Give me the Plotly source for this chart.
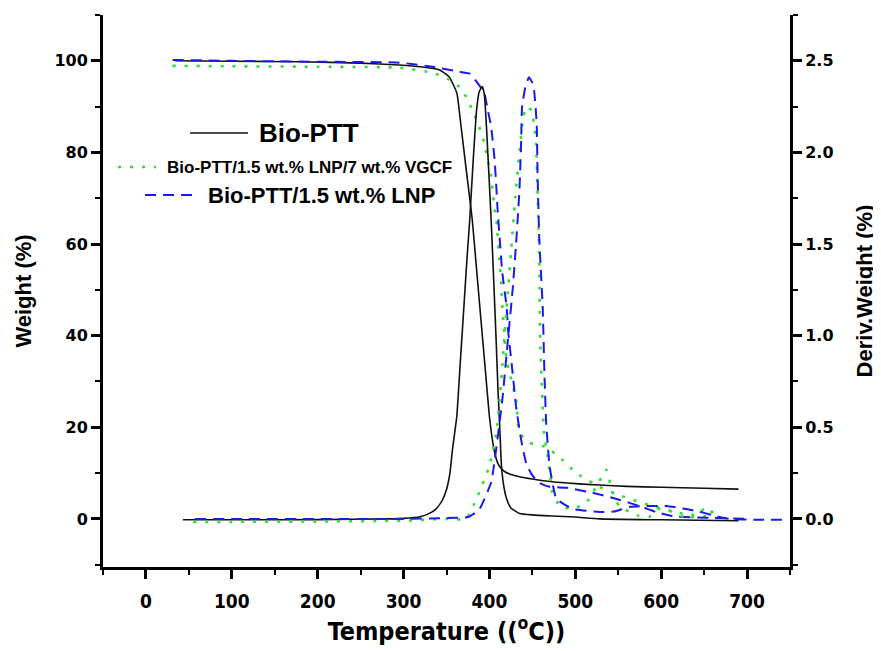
import plotly.graph_objects as go

# ---------------- data ----------------
# Bio-PTT (black, solid)
t_ptt_tga = [34, 100, 180, 250, 295, 320, 342, 353, 362, 367, 373, 380, 385, 390, 395, 400, 405, 409, 412, 418, 425, 435, 450, 473, 500, 528, 560, 600, 650, 690]
w_ptt_tga = [100.0, 99.9, 99.8, 99.5, 99.1, 98.7, 98.0, 96.5, 93.0, 85.6, 76.2, 65.3, 54.5, 43.7, 33.0, 22.3, 15.5, 12.5, 11.4, 10.3, 9.7, 9.2, 8.7, 8.1, 7.7, 7.4, 7.1, 6.9, 6.7, 6.5]
t_ptt_dtg = [43, 100, 200, 280, 300, 319, 330, 338, 345, 350, 354, 357, 362, 366, 370, 374, 377, 381, 385, 388, 391.5, 394, 397, 402, 405, 408, 410, 412, 414, 417, 420, 425, 435, 450, 473, 500, 528, 600, 690]
d_ptt_dtg = [-0.005, -0.005, -0.004, 0.0, 0.003, 0.012, 0.03, 0.055, 0.1, 0.16, 0.25, 0.38, 0.56, 0.85, 1.14, 1.43, 1.63, 1.95, 2.23, 2.33, 2.36, 2.32, 2.1, 1.63, 1.3, 0.95, 0.7, 0.5, 0.29, 0.17, 0.11, 0.06, 0.03, 0.022, 0.016, 0.01, 0.0, -0.005, -0.01]

# Bio-PTT/1.5 wt.% LNP/7 wt.% VGCF (green, dotted)
t_vgcf_tga = [31, 100, 200, 295, 334, 353, 365, 373, 380, 388, 394, 398, 402, 404, 406, 408, 409, 412, 414, 415, 417, 420, 431, 435, 447, 466, 485, 501, 520, 528, 551, 586, 621, 660]
w_vgcf_tga = [98.9, 98.8, 98.7, 98.5, 97.4, 95.9, 94.3, 92.1, 89.3, 85.6, 82.1, 78.4, 74.7, 71.2, 67.5, 65.3, 63.1, 55.9, 50.7, 46.3, 41.3, 34.7, 26.0, 18.8, 16.6, 15.7, 12.9, 10.0, 7.9, 7.0, 5.2, 3.0, 1.3, 0.4]
t_vgcf_dtg = [55, 100, 200, 300, 350, 373, 385, 400, 408, 412, 416, 420, 425, 430, 435, 439, 443, 449, 454, 456, 458, 459, 462, 464, 467, 470, 473, 482, 497, 513, 525, 536, 543, 551, 574, 586, 598, 612, 633, 650, 656, 662]
d_vgcf_dtg = [-0.016, -0.016, -0.014, -0.01, 0.0, 0.0, 0.11, 0.29, 0.47, 0.65, 0.9, 1.15, 1.45, 1.75, 2.0, 2.18, 2.25, 2.23, 2.07, 1.8, 1.43, 0.98, 0.62, 0.44, 0.38, 0.26, 0.15, 0.07, 0.054, 0.09, 0.18, 0.27, 0.15, 0.07, 0.016, 0.01, 0.054, 0.04, 0.0, 0.054, 0.06, 0.01]

# Bio-PTT/1.5 wt.% LNP (blue, dashed)
t_lnp_tga = [31, 100, 200, 295, 334, 365, 377, 386, 394, 398, 402, 406, 408, 409.5, 412, 415, 420, 422, 427, 431, 437, 443, 450, 458, 470, 490, 520, 543, 563, 578, 594, 613, 640, 662, 700]
w_lnp_tga = [100.2, 100.0, 99.8, 99.6, 98.7, 97.6, 97.2, 95.2, 93.0, 89.3, 85.6, 78.4, 72.5, 67.5, 61.0, 53.7, 46.3, 40.6, 31.9, 24.5, 17.2, 12.0, 9.5, 7.9, 7.0, 6.8, 5.7, 4.6, 3.5, 2.6, 1.5, 0.6, 0.3, 0.2, 0.0]
t_lnp_dtg = [57, 100, 200, 300, 350, 375, 388, 402, 415, 420, 423, 427, 431, 435, 437, 438, 442, 446, 450, 452, 455, 456, 458, 462, 464, 466, 470, 478, 497, 528, 545, 563, 583, 606, 629, 644, 660, 679, 710, 749]
d_lnp_dtg = [0.0, 0.0, 0.0, 0.0, 0.005, 0.01, 0.05, 0.2, 0.65, 0.9, 1.05, 1.25, 1.5, 1.8, 2.07, 2.25, 2.36, 2.41, 2.38, 2.34, 2.16, 1.89, 1.53, 1.16, 0.8, 0.53, 0.29, 0.11, 0.054, 0.038, 0.04, 0.065, 0.07, 0.07, 0.054, 0.04, 0.02, 0.0, -0.005, -0.005]

x_ticks = [0, 100, 200, 300, 400, 500, 600, 700]
y_ticks = [0, 20, 40, 60, 80, 100]
y2_ticks = [0.0, 0.5, 1.0, 1.5, 2.0, 2.5]

legend_names = ["Bio-PTT", "Bio-PTT/1.5 wt.% LNP/7 wt.% VGCF", "Bio-PTT/1.5 wt.% LNP"]

# ---------------- styles ----------------
BLACK = "#111111"
GREEN = "#33dd33"
BLUE = "#1a1aee"
DOT = "3px,9px"
DASH = "11px,7px"

fig = go.Figure()

def add(x, y, color, dash, width, axis):
    fig.add_trace(go.Scatter(x=x, y=y, mode="lines", yaxis=axis,
                             line=dict(color=color, dash=dash, width=width, shape="spline", smoothing=0.4),
                             showlegend=False, hoverinfo="skip"))

add(t_ptt_tga, w_ptt_tga, BLACK, "solid", 1.6, "y")
add(t_ptt_dtg, d_ptt_dtg, BLACK, "solid", 1.6, "y2")
add(t_vgcf_tga, w_vgcf_tga, GREEN, DOT, 2.6, "y")
add(t_vgcf_dtg, d_vgcf_dtg, GREEN, DOT, 2.6, "y2")
add(t_lnp_tga, w_lnp_tga, BLUE, DASH, 2.0, "y")
add(t_lnp_dtg, d_lnp_dtg, BLUE, DASH, 2.0, "y2")

# page body has an 8px margin -> figure is drawn 8px right/down of the window corner
OFF = 8
FW, FH = 881 - OFF, 651 - OFF
# plot-area edges in window pixels
L, R, T, B = 103, 790, 15, 567
W_, H_ = R - L, B - T
def px(x): return (x - L) / W_
def py(y): return (B - y) / H_

# ---------------- hand-drawn legend (varying font sizes) ----------------
legend_items = [
    (legend_names[0], BLACK, "solid", 1.6, 190, 248, 133, 257, 26),
    (legend_names[1], GREEN, DOT, 2.6, 118, 156, 167, 165, 17),
    (legend_names[2], BLUE, DASH, 2.0, 145, 196, 195, 206, 22),
]
for name, col, dash, wd, x0, x1, yy, tx, fs in legend_items:
    fig.add_shape(type="line", xref="paper", yref="paper", x0=px(x0), x1=px(x1), y0=py(yy), y1=py(yy),
                  line=dict(color=col, dash=dash, width=wd))
    fig.add_annotation(xref="paper", yref="paper", x=px(tx), y=py(yy), xanchor="left", yanchor="middle",
                       text=name, showarrow=False,
                       font=dict(family="Liberation Sans, Arial", size=fs, color="black", weight="bold"))

axis_common = dict(showline=True, linecolor="black", linewidth=3, ticks="outside", automargin=False,
                   tickcolor="black", tickwidth=2.5, ticklen=9, showgrid=False, zeroline=False)

COND = "DejaVu Sans Condensed, Liberation Sans Narrow, Arial"

fig.update_layout(
    width=FW, height=FH,
    margin=dict(l=L - OFF, r=FW - (R - OFF), t=T - OFF, b=FH - (B - OFF), autoexpand=False),
    paper_bgcolor="white", plot_bgcolor="white",
    showlegend=False,
    xaxis=dict(range=[-50, 750], tickvals=x_ticks, **axis_common,
               minor=dict(dtick=50, tick0=-50, ticklen=5, tickwidth=2, tickcolor="black", ticks="outside"),
               tickfont=dict(family=COND, size=19, color="black", weight="bold"),
               ticklabelstandoff=6,
               title=dict(text="Temperature ((<sup>o</sup>C))", standoff=12,
                          font=dict(family=COND, size=25, color="black", weight="bold"))),
    yaxis=dict(range=[-10.5, 110], tickvals=y_ticks, **axis_common,
               minor=dict(dtick=10, tick0=-10, ticklen=5, tickwidth=2, tickcolor="black", ticks="outside"),
               tickfont=dict(family="DejaVu Sans", size=16, color="black", weight="bold"),
               title=dict(text="Weight (%)", standoff=17,
                          font=dict(family="Liberation Sans, Arial", size=22, color="black", weight="bold"))),
    yaxis2=dict(range=[-0.2625, 2.75], tickvals=y2_ticks, tickformat=".1f", overlaying="y", side="right",
                **axis_common,
                minor=dict(dtick=0.25, tick0=-0.25, ticklen=5, tickwidth=2, tickcolor="black", ticks="outside"),
                tickfont=dict(family="DejaVu Sans", size=16, color="black", weight="bold"),
                title=dict(text="Deriv.Weight (%)", standoff=25,
                           font=dict(family="Liberation Sans, Arial", size=22, color="black", weight="bold"))),
)

fig.write_html("out.html")
